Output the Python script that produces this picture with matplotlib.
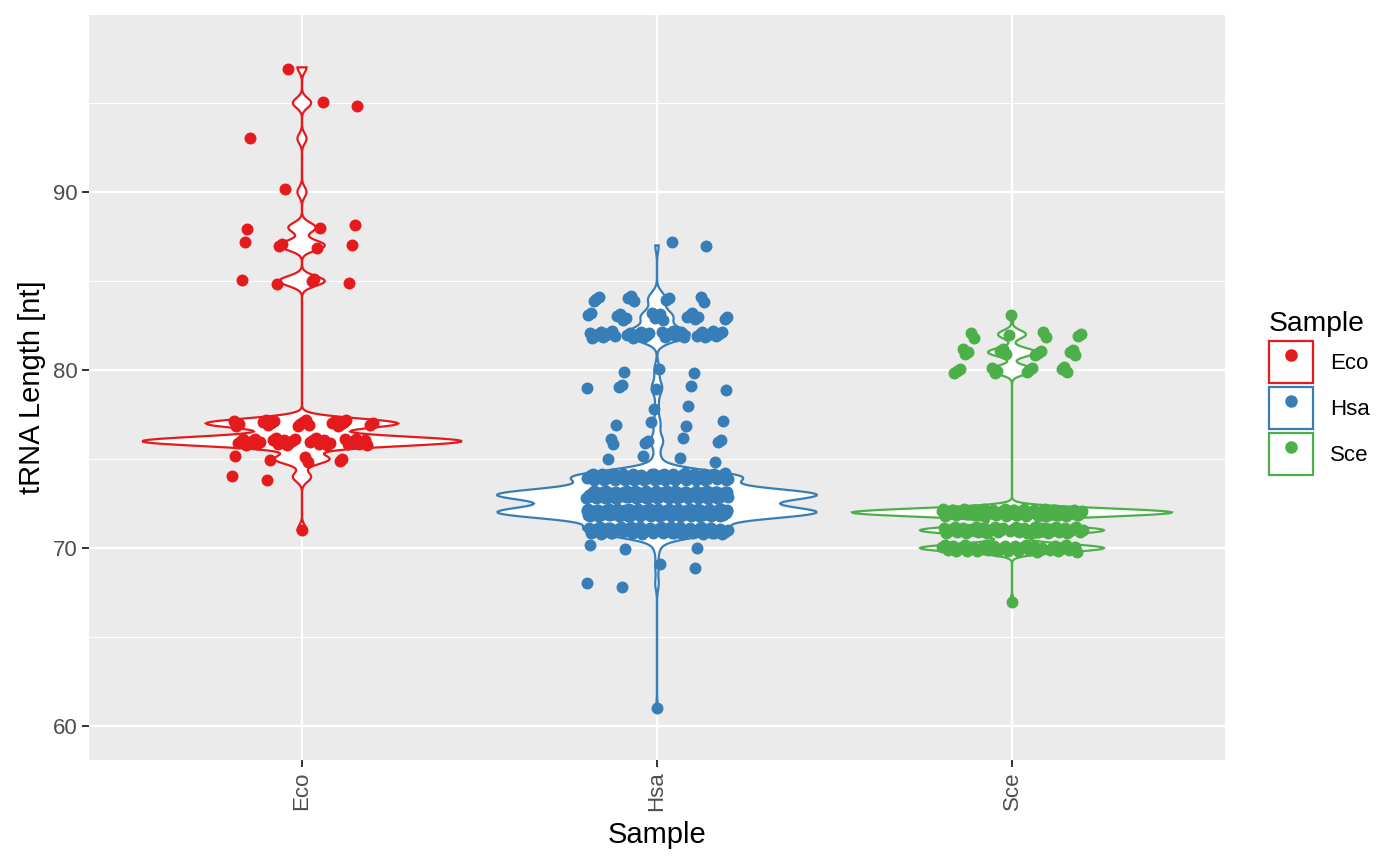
import numpy as np
import matplotlib
matplotlib.use("Agg")
import matplotlib.pyplot as plt
from matplotlib.patches import Rectangle
from matplotlib.lines import Line2D

plt.rcParams["font.family"] = ["Liberation Sans", "DejaVu Sans"]

SAMPLES = ["Eco", "Hsa", "Sce"]
COLORS = ["#E41A1C", "#377EB8", "#4DAF4A"]

# tRNA lengths (nt) and how many tRNAs have that length
ECO_LENGTHS = [71, 74, 75, 76, 77, 85, 87, 88, 90, 93, 95, 97]
ECO_COUNTS = [1, 2, 6, 35, 21, 5, 5, 3, 1, 1, 2, 1]

HSA_LENGTHS = [61, 68, 69, 70, 71, 72, 73, 74, 75, 76, 77, 78, 79, 80, 82, 83, 84, 87]
HSA_COUNTS = [1, 2, 2, 3, 80, 180, 180, 95, 4, 7, 4, 2, 6, 3, 38, 18, 10, 2]

SCE_LENGTHS = [67, 70, 71, 72, 80, 81, 82, 83]
SCE_COUNTS = [1, 46, 46, 80, 12, 12, 7, 1]


def bw_nrd0(x):
    # same rule R's density() uses by default
    sd = np.std(x, ddof=1)
    q75, q25 = np.percentile(x, [75, 25])
    lo = min(sd, (q75 - q25) / 1.34)
    return 0.9 * lo * len(x) ** -0.2


def violin_density(x, n=512):
    grid = np.linspace(x.min(), x.max(), n)
    bw = bw_nrd0(x)
    dens = np.exp(-0.5 * ((grid[:, None] - x[None, :]) / bw) ** 2).sum(axis=1)
    return grid, dens / dens.max()


if __name__ == "__main__":
    groups = [
        np.repeat(ECO_LENGTHS, ECO_COUNTS).astype(float),
        np.repeat(HSA_LENGTHS, HSA_COUNTS).astype(float),
        np.repeat(SCE_LENGTHS, SCE_COUNTS).astype(float),
    ]

    fig = plt.figure(figsize=(14, 8.65), dpi=100)
    ax = fig.add_axes([89 / 1400, 1 - 760 / 865, (1225 - 89) / 1400, 745 / 865])
    ax.set_facecolor("#EBEBEB")
    for s in ax.spines.values():
        s.set_visible(False)

    for i, (vals, color) in enumerate(zip(groups, COLORS)):
        pos = i + 1
        # violin, scaled to its own maximum width
        grid, w = violin_density(vals)
        xs = np.concatenate([pos - 0.45 * w, (pos + 0.45 * w)[::-1]])
        ys = np.concatenate([grid, grid[::-1]])
        ax.fill(xs, ys, facecolor="white", edgecolor=color, lw=1.6, zorder=1)

        # jitter (quasi random, so the picture is reproducible)
        k = np.arange(len(vals))
        jx = ((0.5 + k * 0.7548776662) % 1 - 0.5) * 0.4
        jy = ((0.5 + k * 0.5698402910) % 1 - 0.5) * 0.4
        ax.scatter(pos + jx, vals + jy, s=74, color=color, linewidths=0, zorder=2)

    ax.set_xlim(0.4, 3.6)
    ax.set_ylim(58.1, 99.94)
    ax.set_xticks([1, 2, 3], SAMPLES, rotation=90)
    ax.set_yticks([60, 70, 80, 90])
    ax.set_yticks([65, 75, 85, 95], minor=True)
    ax.grid(which="major", color="white", lw=1.6)
    ax.grid(which="minor", axis="y", color="white", lw=0.8)
    ax.set_axisbelow(True)
    ax.tick_params(which="minor", length=0)
    ax.tick_params(which="major", length=4.8, width=1.4, color="#333333",
                   labelcolor="#4D4D4D", labelsize=16, pad=3.5)

    ax.set_xlabel("Sample", fontsize=21, labelpad=7)
    ax.set_ylabel("tRNA Length [nt]", fontsize=21, labelpad=5)

    # legend: outlined key box with a dot in it
    handles = [
        (Rectangle((0, 0), 1, 1, facecolor="white", edgecolor=c, lw=1.6),
         Line2D([], [], marker="o", ls="", color=c, markersize=8))
        for c in COLORS
    ]
    fig.legend(handles, SAMPLES, title="Sample", loc="center left",
               bbox_to_anchor=(1269 / 1400, 1 - 393 / 865), frameon=False,
               fontsize=16, title_fontsize=20.3, borderpad=0, borderaxespad=0,
               handlelength=1.98, handleheight=2.53, labelspacing=0.18,
               handletextpad=0.77, alignment="left")

    fig.savefig("out.png", dpi=100)
